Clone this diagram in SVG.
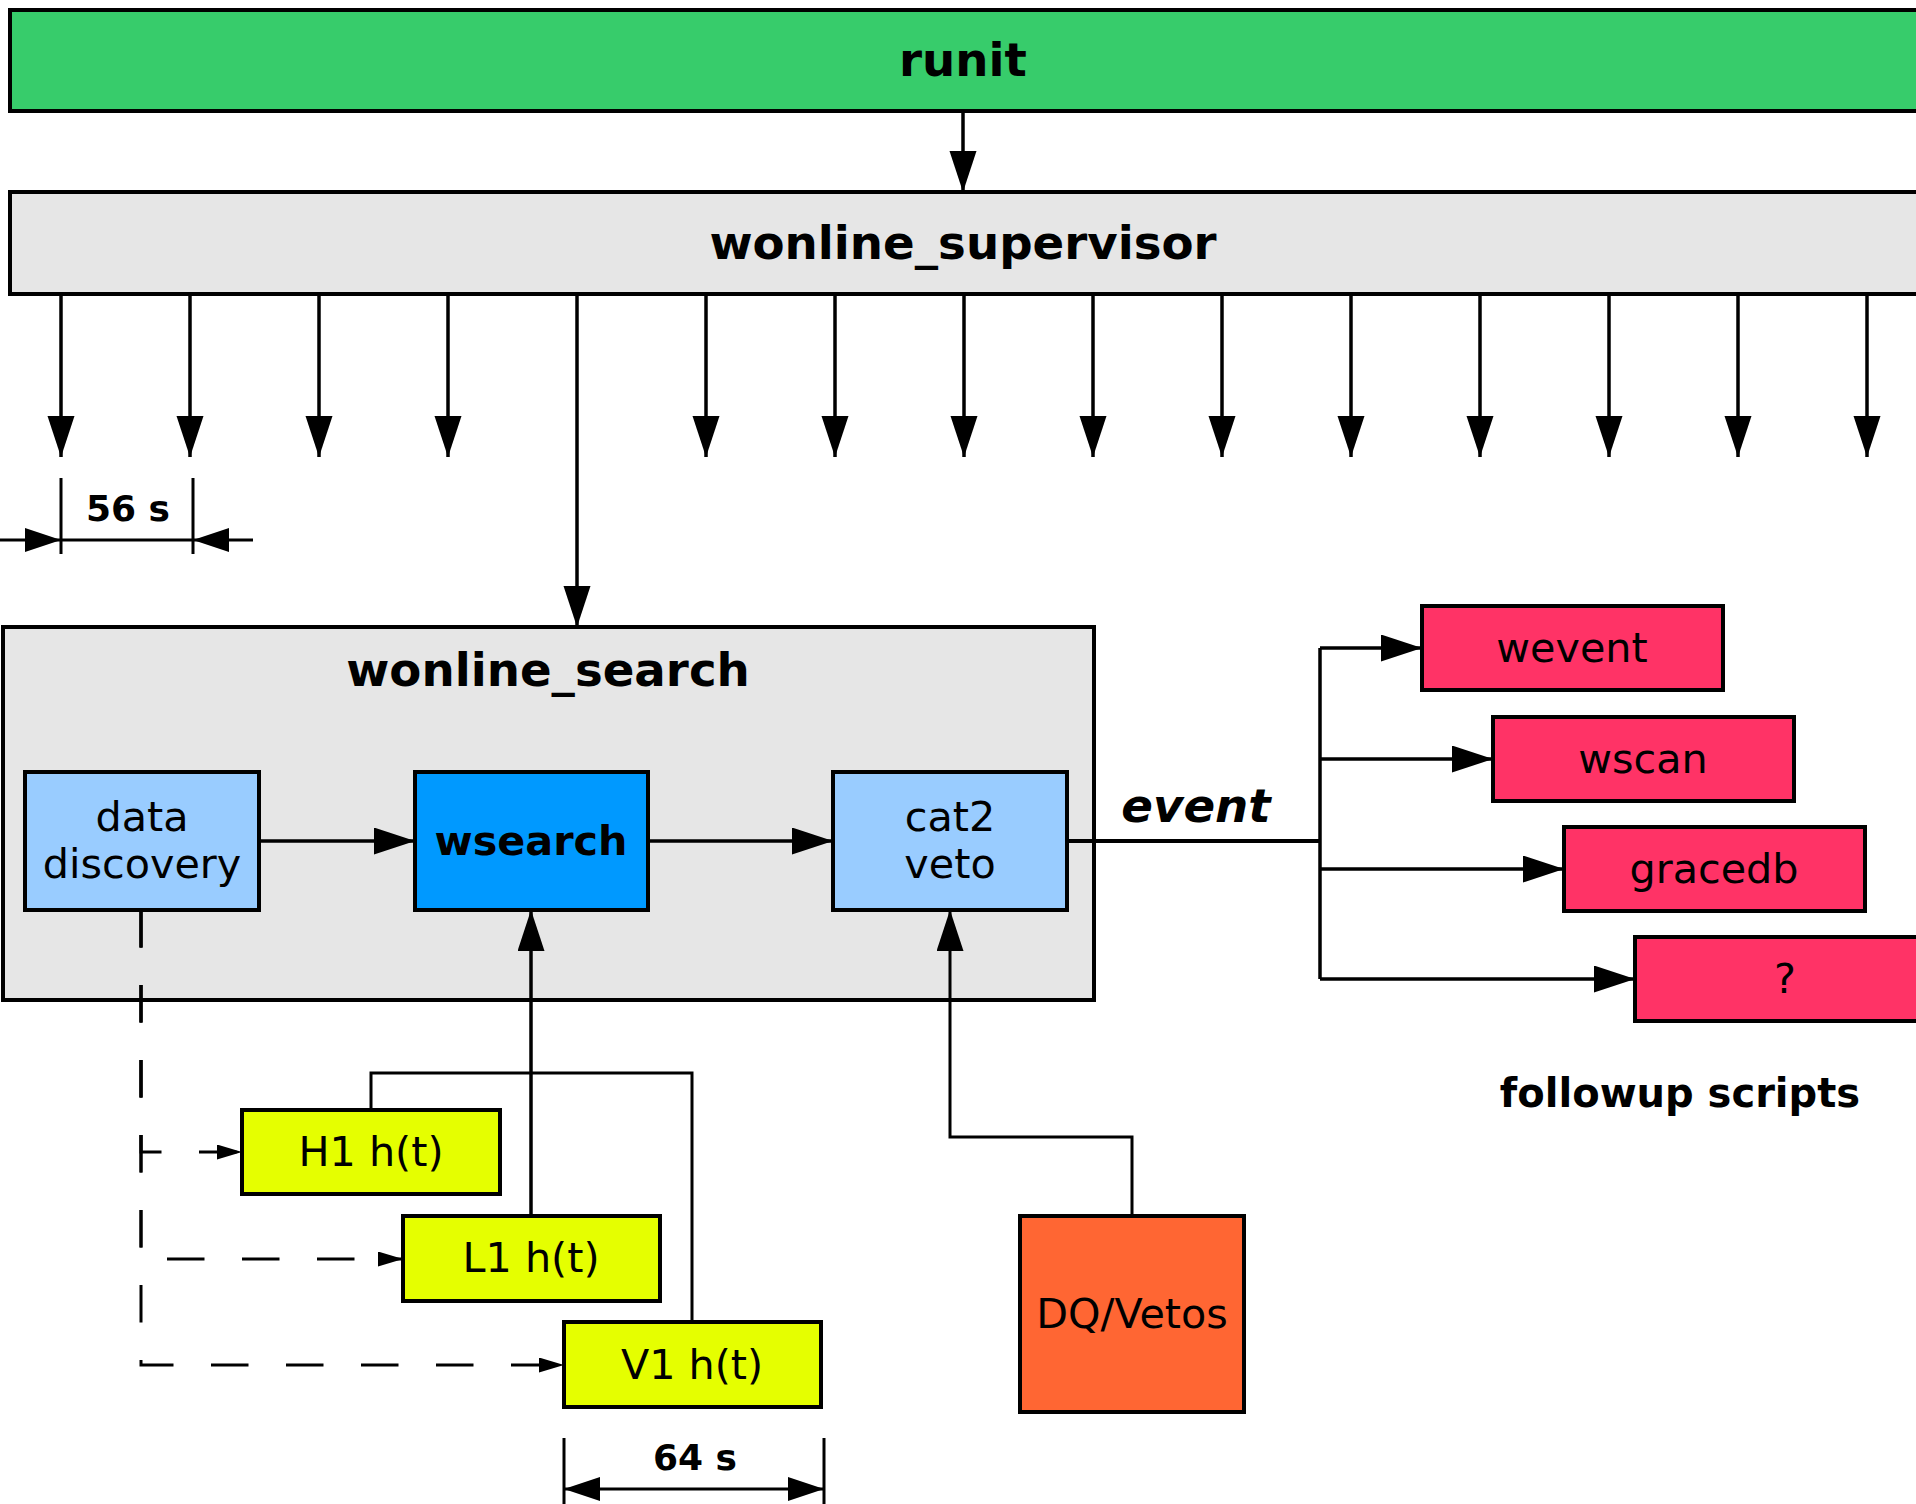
<svg xmlns="http://www.w3.org/2000/svg" width="1916" height="1504" viewBox="0 0 1916 1504">
<style>
.box{stroke:#000;stroke-width:4}
.ln{fill:none;stroke:#000;stroke-width:3.5}
.th{fill:none;stroke:#000;stroke-width:3}
.dash{fill:none;stroke:#000;stroke-width:3;stroke-dasharray:37.5 37.5}
.t{font-family:"DejaVu Sans",sans-serif;font-size:41.3px;text-anchor:middle;fill:#000}
.tb{font-family:"DejaVu Sans",sans-serif;font-size:46.7px;font-weight:bold;text-anchor:middle;fill:#000}
.dim{font-family:"DejaVu Sans",sans-serif;font-size:36px;font-weight:bold;text-anchor:middle;fill:#000}
</style>
<defs>
<marker id="a" markerUnits="userSpaceOnUse" markerWidth="42" markerHeight="28" refX="41" refY="13.5" orient="auto"><path d="M0,0 L41,13.5 L0,27 z" fill="#000"/></marker>
<marker id="s" markerUnits="userSpaceOnUse" markerWidth="26" markerHeight="16" refX="25" refY="7.5" orient="auto"><path d="M0,0 L25,7.5 L0,15 z" fill="#000"/></marker>
<marker id="d" markerUnits="userSpaceOnUse" markerWidth="37" markerHeight="25" refX="36" refY="12" orient="auto-start-reverse"><path d="M0,0 L36,12 L0,24 z" fill="#000"/></marker>
</defs>
<g id="runit"><rect class="box" x="10" y="10" width="1920" height="101" fill="#37cc6b"/><text class="tb" x="963" y="76">runit</text></g>
<g id="wonline_supervisor"><rect class="box" x="10" y="192" width="1920" height="102" fill="#e6e6e6"/><text class="tb" x="963" y="259">wonline_supervisor</text></g>
<g id="wonline_search"><rect class="box" x="3" y="627" width="1091" height="373" fill="#e6e6e6"/><text class="tb" x="548" y="686">wonline_search</text></g>
<g id="data_discovery"><rect class="box" x="25" y="772" width="234" height="138" fill="#99ccff"/><text class="t" x="142" y="831">data</text><text class="t" x="142" y="878">discovery</text></g>
<g id="wsearch"><rect class="box" x="415" y="772" width="233" height="138" fill="#0099ff"/><text class="t" x="531" y="855" font-weight="bold">wsearch</text></g>
<g id="cat2_veto"><rect class="box" x="833" y="772" width="234" height="138" fill="#99ccff"/><text class="t" x="950" y="831">cat2</text><text class="t" x="950" y="878">veto</text></g>
<g id="wevent"><rect class="box" x="1422" y="606" width="301" height="84" fill="#ff3366"/><text class="t" x="1572" y="662">wevent</text></g>
<g id="wscan"><rect class="box" x="1493" y="717" width="301" height="84" fill="#ff3366"/><text class="t" x="1643" y="773">wscan</text></g>
<g id="gracedb"><rect class="box" x="1564" y="827" width="301" height="84" fill="#ff3366"/><text class="t" x="1714" y="883">gracedb</text></g>
<g id="unknown"><rect class="box" x="1635" y="937" width="301" height="84" fill="#ff3366"/><text class="t" x="1785" y="993">?</text></g>
<g id="H1"><rect class="box" x="242" y="1110" width="258" height="84" fill="#e5ff00"/><text class="t" x="371" y="1166">H1 h(t)</text></g>
<g id="L1"><rect class="box" x="403" y="1216" width="257" height="85" fill="#e5ff00"/><text class="t" x="531" y="1272">L1 h(t)</text></g>
<g id="V1"><rect class="box" x="564" y="1322" width="257" height="85" fill="#e5ff00"/><text class="t" x="692" y="1379">V1 h(t)</text></g>
<g id="DQ"><rect class="box" x="1020" y="1216" width="224" height="196" fill="#ff6633"/><text class="t" x="1132" y="1328">DQ/Vetos</text></g>
<text class="tb" x="1196" y="822" font-style="italic">event</text>
<text class="tb" x="1680" y="1107" style="font-size:40px">followup scripts</text>
<text class="dim" x="128" y="521">56 s</text>
<text class="dim" x="695" y="1470">64 s</text>
<g id="connectors">
<path class="ln" d="M963,111 V192" marker-end="url(#a)"/>
<path class="ln" d="M61,294 V457" marker-end="url(#a)"/>
<path class="ln" d="M190,294 V457" marker-end="url(#a)"/>
<path class="ln" d="M319,294 V457" marker-end="url(#a)"/>
<path class="ln" d="M448,294 V457" marker-end="url(#a)"/>
<path class="ln" d="M577,294 V627" marker-end="url(#a)"/>
<path class="ln" d="M706,294 V457" marker-end="url(#a)"/>
<path class="ln" d="M835,294 V457" marker-end="url(#a)"/>
<path class="ln" d="M964,294 V457" marker-end="url(#a)"/>
<path class="ln" d="M1093,294 V457" marker-end="url(#a)"/>
<path class="ln" d="M1222,294 V457" marker-end="url(#a)"/>
<path class="ln" d="M1351,294 V457" marker-end="url(#a)"/>
<path class="ln" d="M1480,294 V457" marker-end="url(#a)"/>
<path class="ln" d="M1609,294 V457" marker-end="url(#a)"/>
<path class="ln" d="M1738,294 V457" marker-end="url(#a)"/>
<path class="ln" d="M1867,294 V457" marker-end="url(#a)"/>
<path class="ln" d="M259,841 H415" marker-end="url(#a)"/>
<path class="ln" d="M648,841 H833" marker-end="url(#a)"/>
<path class="ln" d="M1067,841 H1320" style="stroke-width:4"/>
<path class="ln" d="M1320,648 V979"/>
<path class="ln" d="M1320,648 H1422" marker-end="url(#a)"/>
<path class="ln" d="M1320,759 H1493" marker-end="url(#a)"/>
<path class="ln" d="M1320,869 H1564" marker-end="url(#a)"/>
<path class="ln" d="M1320,979 H1635" marker-end="url(#a)"/>
<path class="ln" d="M531,1216 V910" marker-end="url(#a)"/>
<path class="th" d="M371,1110 V1073 H692 V1322"/>
<path class="ln" d="M1132,1216 V1137 H950 V910" style="stroke-width:3" marker-end="url(#a)"/>
<path class="dash" d="M141,910 V1152 H242" marker-end="url(#s)"/>
<path class="dash" d="M141,910 V1259 H403" marker-end="url(#s)"/>
<path class="dash" d="M141,910 V1365 H564" marker-end="url(#s)"/>
<path class="th" d="M61,478 V554 M193,478 V554 M61,540 H193"/>
<path class="th" d="M0,540 H61" marker-end="url(#d)"/>
<path class="th" d="M253,540 H193" marker-end="url(#d)"/>
<path class="th" d="M564,1438 V1504 M824,1438 V1504"/>
<path class="th" d="M564,1489 H824" marker-start="url(#d)" marker-end="url(#d)"/>
</g>
</svg>
